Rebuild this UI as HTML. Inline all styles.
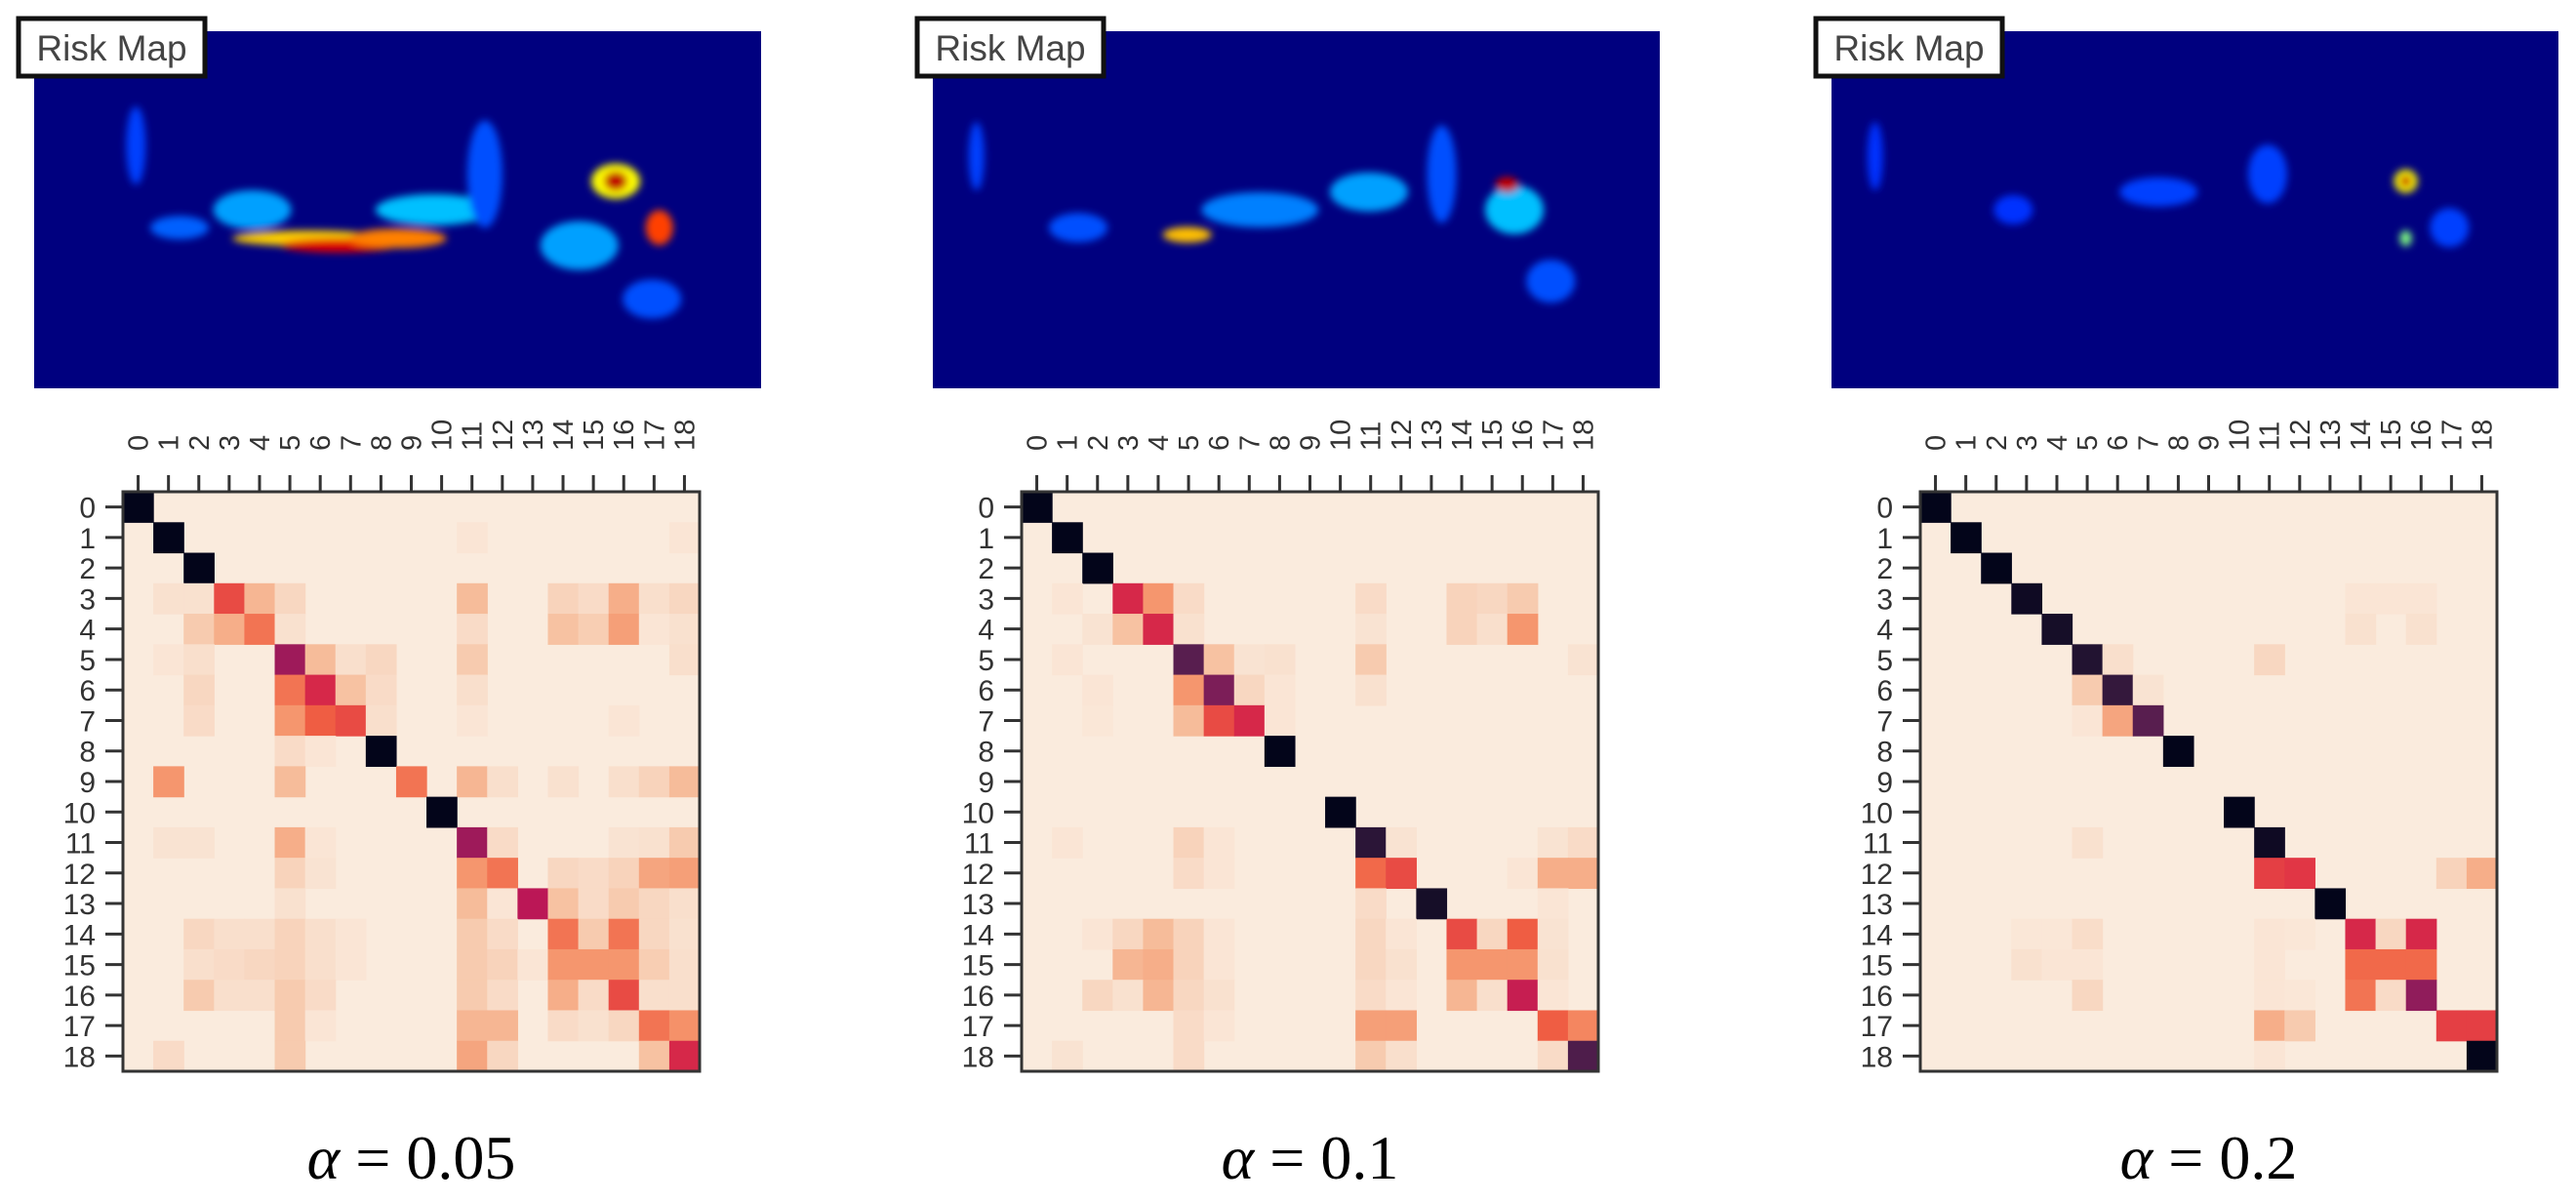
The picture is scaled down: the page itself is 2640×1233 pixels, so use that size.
<!DOCTYPE html>
<html><head><meta charset="utf-8">
<style>
html,body{margin:0;padding:0;background:#fff;}
svg{display:block;}
</style></head>
<body>
<svg id="fig" width="2640" height="1233" viewBox="0 0 2640 1233" xmlns="http://www.w3.org/2000/svg">
<defs>
<filter id="blur" x="-20%" y="-20%" width="140%" height="140%"><feGaussianBlur stdDeviation="4"/></filter>
</defs>
</svg>
<script>
const categories = [0,1,2,3,4,5,6,7,8,9,10,11,12,13,14,15,16,17,18];
const alphaLabels = ["0.05","0.1","0.2"];
// sparse off-background entries [row, col, intensity]
const cells005 = [[0,0,1],[1,1,1],[1,11,.03],[1,18,.03],[2,2,1],
[3,1,.05],[3,2,.05],[3,3,.45],[3,4,.22],[3,5,.1],[3,11,.2],[3,14,.12],[3,15,.08],[3,16,.25],[3,17,.06],[3,18,.1],
[4,2,.15],[4,3,.25],[4,4,.38],[4,5,.05],[4,11,.08],[4,14,.18],[4,15,.14],[4,16,.3],[4,17,.03],[4,18,.05],
[5,1,.03],[5,2,.06],[5,5,.65],[5,6,.2],[5,7,.06],[5,8,.1],[5,11,.15],[5,18,.06],
[6,2,.1],[6,5,.38],[6,6,.55],[6,7,.18],[6,8,.08],[6,11,.06],
[7,2,.08],[7,5,.32],[7,6,.42],[7,7,.45],[7,8,.06],[7,11,.03],[7,16,.03],
[8,5,.08],[8,6,.03],[8,8,1],
[9,1,.32],[9,5,.2],[9,9,.38],[9,11,.22],[9,12,.06],[9,14,.05],[9,16,.06],[9,17,.12],[9,18,.2],
[10,10,1],
[11,1,.04],[11,2,.04],[11,5,.25],[11,6,.03],[11,11,.65],[11,12,.08],[11,16,.04],[11,17,.05],[11,18,.15],
[12,5,.12],[12,6,.04],[12,11,.32],[12,12,.38],[12,14,.1],[12,15,.08],[12,16,.12],[12,17,.28],[12,18,.3],
[13,5,.05],[13,11,.2],[13,12,.03],[13,13,.6],[13,14,.18],[13,15,.08],[13,16,.15],[13,17,.1],[13,18,.06],
[14,2,.1],[14,3,.06],[14,4,.06],[14,5,.12],[14,6,.06],[14,7,.03],[14,11,.15],[14,12,.08],[14,14,.38],[14,15,.15],[14,16,.38],[14,17,.1],[14,18,.05],
[15,2,.06],[15,3,.08],[15,4,.1],[15,5,.12],[15,6,.06],[15,7,.03],[15,11,.15],[15,12,.12],[15,13,.03],[15,14,.32],[15,15,.32],[15,16,.32],[15,17,.14],[15,18,.06],
[16,2,.15],[16,3,.06],[16,4,.06],[16,5,.15],[16,6,.08],[16,11,.15],[16,12,.08],[16,14,.25],[16,15,.08],[16,16,.45],[16,17,.06],[16,18,.06],
[17,5,.15],[17,6,.03],[17,11,.22],[17,12,.22],[17,14,.08],[17,15,.05],[17,16,.1],[17,17,.38],[17,18,.33],
[18,1,.08],[18,5,.15],[18,11,.28],[18,12,.1],[18,17,.18],[18,18,.55]];
const cells01 = [[0,0,1],[1,1,1],[2,2,1],
[3,1,.03],[3,3,.55],[3,4,.32],[3,5,.08],[3,11,.08],[3,14,.12],[3,15,.1],[3,16,.15],
[4,2,.04],[4,3,.18],[4,4,.55],[4,5,.05],[4,11,.04],[4,14,.12],[4,15,.06],[4,16,.32],
[5,1,.03],[5,5,.8],[5,6,.18],[5,7,.04],[5,8,.05],[5,11,.15],[5,18,.04],
[6,2,.03],[6,5,.32],[6,6,.72],[6,7,.1],[6,8,.03],[6,11,.05],
[7,2,.02],[7,5,.2],[7,6,.45],[7,7,.55],[7,8,.03],
[8,8,1],[10,10,1],
[11,1,.03],[11,5,.12],[11,6,.03],[11,11,.9],[11,12,.04],[11,17,.04],[11,18,.08],
[12,5,.08],[12,6,.03],[12,11,.4],[12,12,.45],[12,16,.03],[12,17,.25],[12,18,.25],
[13,11,.08],[13,13,.95],[13,17,.03],
[14,2,.03],[14,3,.1],[14,4,.2],[14,5,.12],[14,6,.03],[14,11,.1],[14,12,.03],[14,14,.45],[14,15,.1],[14,16,.42],[14,17,.04],
[15,3,.22],[15,4,.25],[15,5,.12],[15,6,.03],[15,11,.1],[15,12,.05],[15,14,.32],[15,15,.32],[15,16,.32],[15,17,.05],
[16,2,.1],[16,3,.05],[16,4,.22],[16,5,.1],[16,6,.05],[16,11,.08],[16,12,.03],[16,14,.22],[16,15,.06],[16,16,.58],[16,17,.03],
[17,5,.08],[17,6,.03],[17,11,.3],[17,12,.3],[17,17,.42],[17,18,.35],
[18,1,.04],[18,5,.08],[18,11,.15],[18,12,.06],[18,17,.08],[18,18,.82]];
const cells02 = [[0,0,1],[1,1,1],[2,2,1],[3,3,.97],[3,14,.03],[3,15,.03],[3,16,.03],
[4,4,.95],[4,14,.05],[4,16,.05],
[5,5,.92],[5,6,.06],[5,11,.1],
[6,5,.15],[6,6,.88],[6,7,.04],
[7,5,.03],[7,6,.28],[7,7,.8],
[8,8,1],[10,10,1],[11,5,.05],[11,11,.97],
[12,11,.48],[12,12,.5],[12,17,.12],[12,18,.25],
[13,13,1],
[14,3,.02],[14,4,.02],[14,5,.07],[14,11,.03],[14,12,.02],[14,14,.55],[14,15,.1],[14,16,.55],
[15,3,.05],[15,4,.03],[15,5,.03],[15,11,.03],[15,14,.4],[15,15,.4],[15,16,.4],
[16,5,.1],[16,11,.03],[16,12,.02],[16,14,.38],[16,15,.08],[16,16,.68],
[17,11,.25],[17,12,.15],[17,17,.48],[17,18,.48],
[18,11,.03],[18,18,1]];
const allCells = [cells005, cells01, cells02];

const NS = "http://www.w3.org/2000/svg";
const svg = document.getElementById('fig');
function mk(tag, attrs, parent){ const e=document.createElementNS(NS,tag); for(const k in attrs) e.setAttribute(k,attrs[k]); (parent||svg).appendChild(e); return e; }

// rocket colormap (0 = dark, 1 = light)
const stops = [[0,[3,5,26]],[.1,[34,19,49]],[.2,[69,28,71]],[.3,[106,31,86]],[.4,[146,28,91]],[.5,[185,22,87]],[.6,[221,44,69]],[.7,[240,96,67]],[.8,[245,147,106]],[.9,[246,188,154]],[1,[250,235,221]]];
function rocket(t){ t=Math.max(0,Math.min(1,t)); for(let i=1;i<stops.length;i++){ if(t<=stops[i][0]){ const a=stops[i-1],b=stops[i]; const f=(t-a[0])/(b[0]-a[0]); const c=a[1].map((v,j)=>Math.round(v+(b[1][j]-v)*f)); return `rgb(${c[0]},${c[1]},${c[2]})`; } } return 'rgb(250,235,221)'; }
// intensity -> colormap position
const tmap = [[0,1],[.12,.95],[.2,.9],[.3,.83],[.38,.74],[.45,.66],[.55,.58],[.65,.43],[.8,.25],[1,0]];
function colorFor(v){ for(let i=1;i<tmap.length;i++){ if(v<=tmap[i][0]){ const a=tmap[i-1],b=tmap[i]; return rocket(a[1]+(b[1]-a[1])*(v-a[0])/(b[0]-a[0])); } } return rocket(0); }

const chartLeft=[126,1047,1968], chartTop=504, plotW=591, plotH=594;
const imgLeft=[35,956,1877], imgTop=32, imgW=745, imgH=366;

const blobs = [
 [[.14,.32,10,40,'#0040ff'],[.2,.55,30,12,'#0060ff'],[.3,.5,40,20,'#00a0ff'],[.38,.58,80,8,'#ffd000'],[.42,.6,60,7,'#e00000'],[.5,.58,50,10,'#ff8000'],[.55,.5,60,16,'#00c0ff'],[.62,.4,18,55,'#0050ff'],[.75,.6,40,25,'#00a0ff'],[.8,.42,25,18,'#ffff00'],[.8,.42,12,10,'#c00000'],[.86,.55,14,18,'#ff4000'],[.85,.75,30,20,'#0050ff']],
 [[.06,.35,8,35,'#0040ff'],[.2,.55,30,15,'#0050ff'],[.35,.57,25,8,'#ffc000'],[.45,.5,60,18,'#0080ff'],[.6,.45,40,20,'#00a0ff'],[.7,.4,15,50,'#0050ff'],[.8,.5,30,25,'#00c0ff'],[.79,.43,12,8,'#c00000'],[.85,.7,25,22,'#0050ff']],
 [[.06,.35,8,35,'#0030ff'],[.25,.5,20,15,'#0030ff'],[.45,.45,40,15,'#0040ff'],[.6,.4,20,30,'#0040ff'],[.79,.42,12,12,'#ffff00'],[.79,.42,6,6,'#c00000'],[.79,.58,6,8,'#80ff80'],[.85,.55,20,20,'#0040ff']]
];

for(let p=0;p<3;p++){
  const g = mk('g',{});
  
  
  mk('rect',{x:imgLeft[p],y:imgTop,width:imgW,height:imgH,fill:'#00007f'},g);
  const bg = mk('g',{filter:'url(#blur)'},g);
  blobs[p].forEach(b=>{ mk('ellipse',{cx:imgLeft[p]+b[0]*imgW,cy:imgTop+b[1]*imgH,rx:b[2],ry:b[3],fill:b[4]},bg); });
  const lb = mk('rect',{x:imgLeft[p]-16,y:19,width:191,height:59,fill:'#fff',stroke:'#111','stroke-width':5},g);
  
  
  const lt = mk('text',{x:imgLeft[p]-16+95.5,y:62,'text-anchor':'middle','font-family':'Liberation Sans, sans-serif','font-size':37,fill:'#444'},g);
  lt.textContent='Risk Map';
  
  

  const L=chartLeft[p], n=categories.length;
  const xs = i => L + i*plotW/n;
  const ys = i => chartTop + i*plotH/n;
  const hg = mk('g',{});
  
  
  const bgr = mk('rect',{x:L,y:chartTop,width:plotW,height:plotH,fill:rocket(1)},hg);
  
  
  allCells[p].forEach(c=>{
    const r = mk('rect',{x:xs(c[1]),y:ys(c[0]),width:plotW/n+0.6,height:plotH/n+0.6,fill:colorFor(c[2])},hg);
    
    
  });
  mk('rect',{x:L,y:chartTop,width:plotW,height:plotH,fill:'none',stroke:'#333','stroke-width':3},hg);
  categories.forEach((c,i)=>{
    const cx = xs(i)+plotW/n/2, cy = ys(i)+plotH/n/2;
    mk('line',{x1:cx,y1:chartTop-17,x2:cx,y2:chartTop,stroke:'#333','stroke-width':3},hg);
    const tx = mk('text',{x:0,y:0,transform:`translate(${cx+10},${chartTop-42}) rotate(-90)`,'font-family':'Liberation Sans, sans-serif','font-size':29,fill:'#333'},hg);
    tx.textContent=c;
    
    
    mk('line',{x1:L-18,y1:cy,x2:L,y2:cy,stroke:'#333','stroke-width':3},hg);
    const ty = mk('text',{x:L-28,y:cy+11,'text-anchor':'end','font-family':'Liberation Sans, sans-serif','font-size':30,fill:'#333'},hg);
    ty.textContent=c;
    
    
  });
  const at = mk('text',{x:L+plotW/2,y:1208,'text-anchor':'middle','font-family':'Liberation Serif, serif','font-size':64,fill:'#000'});
  at.innerHTML = '<tspan font-style="italic">α</tspan> = '+alphaLabels[p];
  
  
}
</script>
</body></html>
